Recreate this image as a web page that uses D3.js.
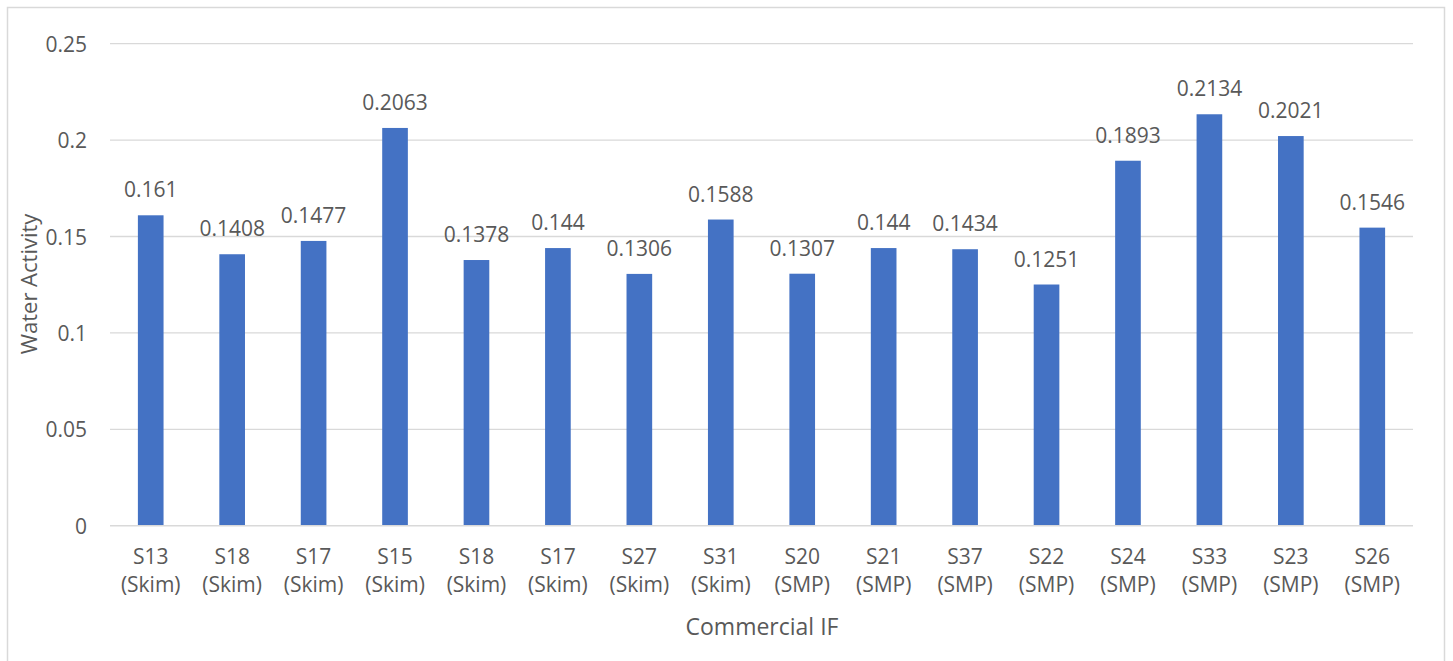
<!DOCTYPE html>
<html>
<head>
<meta charset="utf-8">
<script src="https://cdn.jsdelivr.net/npm/d3@7"></script>
<style>
  html, body { margin: 0; padding: 0; background: #fff; }
  svg { display: block; }
  text { font-family: "Open Sans", "Noto Sans", sans-serif; fill: #595959; }
</style>
</head>
<body>
<svg id="chart" width="1453" height="661"></svg>
<script>
// Sample codes and their formula type (two-line category labels)
const samples = ["S13", "S18", "S17", "S15", "S18", "S17", "S27", "S31",
                 "S20", "S21", "S37", "S22", "S24", "S33", "S23", "S26"];
const types = ["(Skim)", "(Skim)", "(Skim)", "(Skim)", "(Skim)", "(Skim)", "(Skim)", "(Skim)",
               "(SMP)", "(SMP)", "(SMP)", "(SMP)", "(SMP)", "(SMP)", "(SMP)", "(SMP)"];
// Measured water activity per sample
const waterActivity = [0.161, 0.1408, 0.1477, 0.2063, 0.1378, 0.144, 0.1306, 0.1588,
                       0.1307, 0.144, 0.1434, 0.1251, 0.1893, 0.2134, 0.2021, 0.1546];
const yTicks = [0, 0.05, 0.1, 0.15, 0.2, 0.25];

const svg = d3.select("#chart");
const W = 1453, H = 661;
const plot = { left: 110, right: 1413, top: 43.7, bottom: 525.7 };

// Outer chart frame
svg.append("rect")
  .attr("x", 7.5).attr("y", 7.5)
  .attr("width", 1437).attr("height", 670)
  .attr("fill", "none").attr("stroke", "#d9d9d9").attr("stroke-width", 1.5);

const idx = d3.range(samples.length);
const x = d3.scaleBand().domain(idx).range([plot.left, plot.right]).paddingInner(0.685).paddingOuter(0.3425);
const y = d3.scaleLinear().domain([0, 0.25]).range([plot.bottom, plot.top]);

// Horizontal gridlines
svg.append("g").selectAll("line").data(yTicks.filter(t => t > 0)).join("line")
  .attr("x1", plot.left).attr("x2", plot.right)
  .attr("y1", d => y(d)).attr("y2", d => y(d))
  .attr("stroke", "#d9d9d9").attr("stroke-width", 1.3);

// Y axis tick labels
const yAxis = d3.axisLeft(y).tickValues(yTicks).tickSize(0).tickPadding(0)
  .tickFormat(d => d3.format("")(d));
const gy = svg.append("g").attr("transform", `translate(${plot.left - 23},0)`).call(yAxis);
gy.select(".domain").remove();
gy.selectAll("text").attr("font-size", 21).attr("fill", "#595959")
  .attr("font-family", "'Open Sans', sans-serif").attr("dy", "0.36em");

// Bars
svg.append("g").selectAll("rect").data(idx).join("rect")
  .attr("x", i => x(i))
  .attr("width", x.bandwidth())
  .attr("y", i => y(waterActivity[i]))
  .attr("height", i => y(0) - y(waterActivity[i]))
  .attr("fill", "#4472c4");

// Baseline
svg.append("line")
  .attr("x1", plot.left).attr("x2", plot.right)
  .attr("y1", y(0)).attr("y2", y(0))
  .attr("stroke", "#d9d9d9").attr("stroke-width", 1.5);

// Value labels above bars
svg.append("g").selectAll("text").data(idx).join("text")
  .attr("x", i => x(i) + x.bandwidth() / 2)
  .attr("y", i => y(waterActivity[i]) - 18)
  .attr("text-anchor", "middle")
  .attr("font-size", 21)
  .text(i => String(waterActivity[i]));

// Category labels (two lines)
const xl = svg.append("g").selectAll("text").data(idx).join("text")
  .attr("text-anchor", "middle")
  .attr("font-size", 21);
xl.append("tspan")
  .attr("x", i => x(i) + x.bandwidth() / 2).attr("y", 564)
  .text(i => samples[i]);
xl.append("tspan")
  .attr("x", i => x(i) + x.bandwidth() / 2).attr("y", 592)
  .text(i => types[i]);

// Axis titles
svg.append("text")
  .attr("x", (plot.left + plot.right) / 2 + 0.5).attr("y", 635)
  .attr("text-anchor", "middle").attr("font-size", 23)
  .text("Commercial IF");

svg.append("text")
  .attr("transform", `translate(37,284) rotate(-90)`)
  .attr("text-anchor", "middle").attr("font-size", 22)
  .text("Water Activity");
</script>
</body>
</html>
